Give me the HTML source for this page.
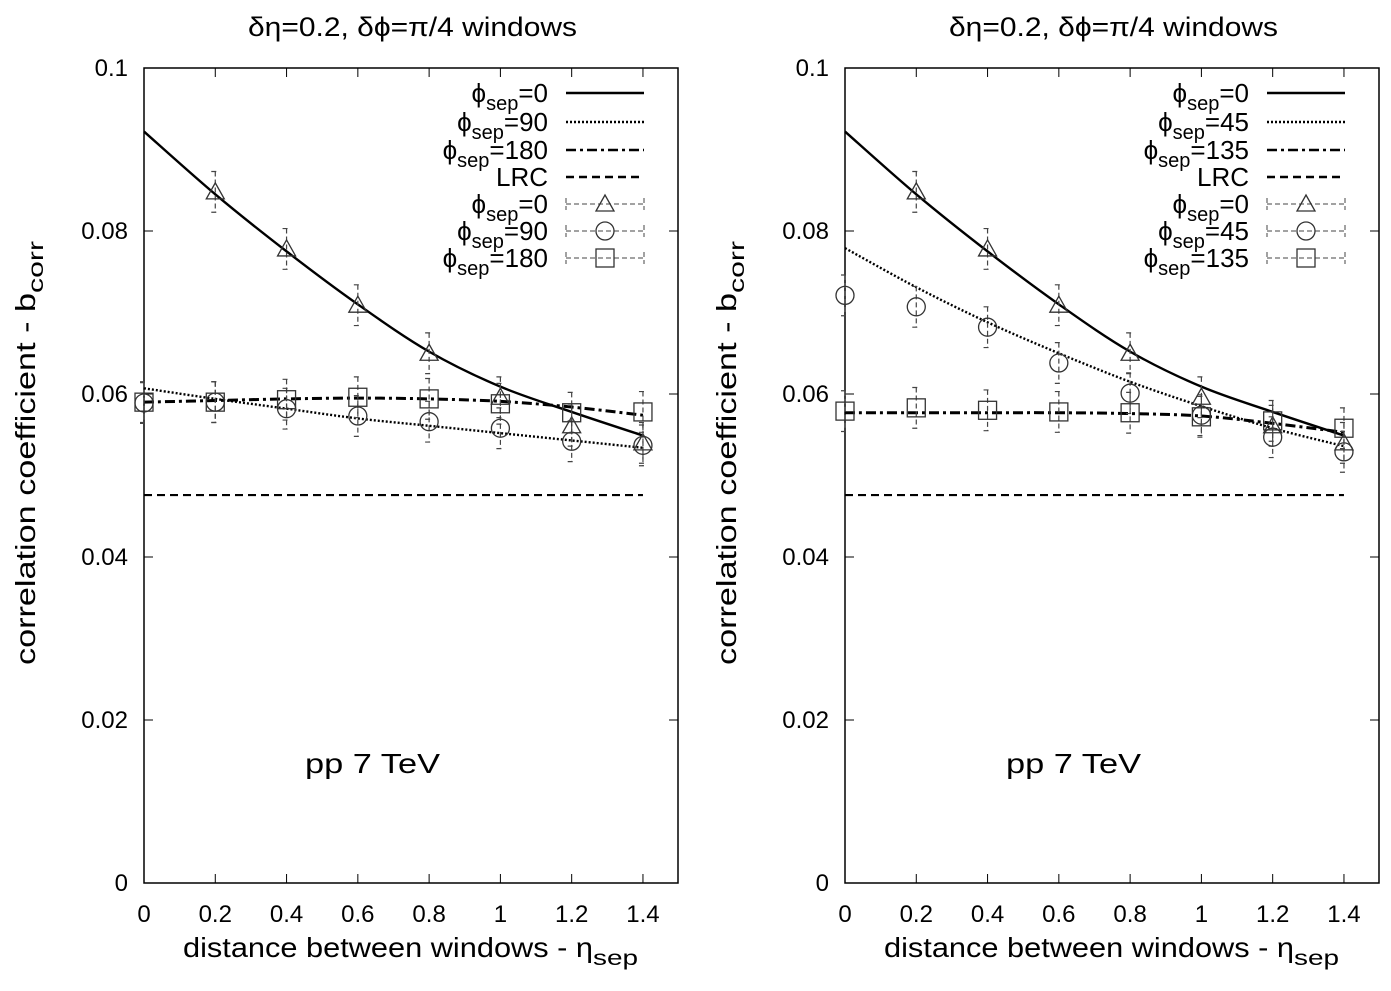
<!DOCTYPE html>
<html><head><meta charset="utf-8"><style>
body{margin:0;background:#fff}
svg text{font-family:"Liberation Sans",sans-serif;fill:#000}
</style></head><body>
<svg id="chart" width="1391" height="986" xmlns="http://www.w3.org/2000/svg"></svg>
<script>
const xs=[0,0.2,0.4,0.6,0.8,1.0,1.2,1.4];
const xTicks=[0,0.2,0.4,0.6,0.8,1,1.2,1.4];
const yTicks=[0,0.02,0.04,0.06,0.08,0.1];
const lrc=0.0476;
// left panel
const L_tri=[null,0.0848,0.0778,0.0709,0.0650,0.0596,0.0561,0.0540];
const L_circ=[0.0589,0.0590,0.0582,0.0573,0.0566,0.0558,0.0542,0.0537];
const L_sq=[0.0590,0.0590,0.0593,0.0596,0.0594,0.0588,0.0577,0.0578];
const L_solid=[0.0922,0.0845,0.0775,0.0710,0.0652,0.0609,0.0578,0.0549];
const L_dot=[0.0607,0.0594,0.0582,0.0570,0.0561,0.0552,0.0543,0.0534];
const L_dd=[0.0590,0.0592,0.0594,0.0595,0.0594,0.0591,0.0584,0.0574];
// right panel
const R_tri=[null,0.0848,0.0778,0.0709,0.0650,0.0596,0.0561,0.0540];
const R_circ=[0.0721,0.0707,0.0682,0.0638,0.0601,0.0574,0.0547,0.0529];
const R_sq=[0.0579,0.0583,0.0580,0.0578,0.0577,0.0572,0.0567,0.0558];
const R_solid=[0.0922,0.0845,0.0775,0.0710,0.0652,0.0609,0.0578,0.0549];
const R_dot=[0.0779,0.0731,0.0688,0.0650,0.0615,0.0585,0.0558,0.0536];
const R_dd=[0.0577,0.0577,0.0577,0.0577,0.0576,0.0573,0.0564,0.0553];
const errs=0.0025;

const NS="http://www.w3.org/2000/svg";
const svg=document.getElementById('chart');
function el(t,a,p){const e=document.createElementNS(NS,t);for(const k in a)e.setAttribute(k,a[k]);(p||svg).appendChild(e);return e;}

function panel(x0,labels,tri,circ,sq,solid,dot,dd,name){
  const g=el('g',{});
  
  
  const top=68,bot=883,right=x0+534;
  const X=v=>x0+v*356.4, Y=v=>bot-v*8150;
  const frame=el('rect',{x:x0,y:top,width:right-x0,height:bot-top,fill:'none',stroke:'#000','stroke-width':1.5},g);
  
  
  xTicks.forEach(v=>{
    el('line',{x1:X(v),x2:X(v),y1:bot,y2:bot-9,stroke:'#000'},g);
    el('line',{x1:X(v),x2:X(v),y1:top,y2:top+9,stroke:'#000'},g);
    const t=el('text',{x:X(v),y:922,'font-size':24,'text-anchor':'middle'},g);t.textContent=String(v);
    
    
  });
  yTicks.forEach(v=>{
    el('line',{x1:x0,x2:x0+9,y1:Y(v),y2:Y(v),stroke:'#000'},g);
    el('line',{x1:right,x2:right-9,y1:Y(v),y2:Y(v),stroke:'#000'},g);
    const t=el('text',{x:x0-16,y:Y(v)+8,'font-size':24,'text-anchor':'end'},g);t.textContent=String(v);
    
    
  });
  const ti=el('text',{x:x0+104,y:36,'font-size':27,textLength:329,lengthAdjust:'spacingAndGlyphs'},g);
  ti.textContent='δη=0.2, δϕ=π/4 windows';
  
  
  const xl=el('text',{x:x0+39,y:957,'font-size':28},g);
  xl.innerHTML='<tspan textLength="410" lengthAdjust="spacingAndGlyphs">distance between windows - η</tspan><tspan font-size="21" dy="8" textLength="45" lengthAdjust="spacingAndGlyphs">sep</tspan>';
  
  
  const yl=el('text',{transform:`translate(${x0-109},665) rotate(-90)`,'font-size':28},g);
  yl.innerHTML='<tspan textLength="372" lengthAdjust="spacingAndGlyphs">correlation coefficient - b</tspan><tspan font-size="21" dy="8" textLength="52" lengthAdjust="spacingAndGlyphs">corr</tspan>';
  
  
  const pp=el('text',{x:x0+161,y:773,'font-size':28,textLength:135,lengthAdjust:'spacingAndGlyphs'},g);
  pp.textContent='pp  7 TeV';
  
  
  function curve(vals,dash,w,nm){
    const p=vals.map((v,i)=>[X(xs[i]),Y(v)]);
    let d=`M${p[0][0]},${p[0][1]}`;
    for(let i=0;i<p.length-1;i++){
      const p0=p[Math.max(i-1,0)],p1=p[i],p2=p[i+1],p3=p[Math.min(i+2,p.length-1)];
      d+=` C${p1[0]+(p2[0]-p0[0])/6},${p1[1]+(p2[1]-p0[1])/6} ${p2[0]-(p3[0]-p1[0])/6},${p2[1]-(p3[1]-p1[1])/6} ${p2[0]},${p2[1]}`;
    }
    const c=el('path',{d,fill:'none',stroke:'#000','stroke-width':w,'stroke-dasharray':dash},g);
    
    
  }
  const lr=el('line',{x1:X(0),x2:X(1.4),y1:Y(lrc),y2:Y(lrc),stroke:'#000','stroke-width':2.2,'stroke-dasharray':'8,5'},g);
  
  
  curve(solid,'none',2.4,'curve-phi0');
  curve(dot,'2,2',2.4,'curve-phi-mid');
  curve(dd,'10,4,3,4',3,'curve-phi-back');
  function marker(type,cx,cy){
    if(type==='tri')return el('path',{d:`M${cx},${cy-9} L${cx+9},${cy+7} L${cx-9},${cy+7} Z`,fill:'none',stroke:'#333','stroke-width':1.3},g);
    if(type==='circ')return el('circle',{cx,cy,r:9,fill:'none',stroke:'#333','stroke-width':1.3},g);
    return el('rect',{x:cx-9,y:cy-9,width:18,height:18,fill:'none',stroke:'#333','stroke-width':1.3},g);
  }
  function pts(vals,type,nm){
    vals.forEach((v,i)=>{
      if(v===null)return;
      const cx=X(xs[i]),cy=Y(v);
      const e=el('path',{d:`M${cx},${Y(v+errs)} V${Y(v-errs)} M${cx-4},${Y(v+errs)} H${cx+4} M${cx-4},${Y(v-errs)} H${cx+4}`,stroke:'#444','stroke-width':1.2,'stroke-dasharray':'5,3',fill:'none'},g);
      
      
      const m=marker(type,cx,cy);
      
      
    });
  }
  pts(tri,'tri','point-phi0');pts(circ,'circ','point-phi-mid');pts(sq,'sq','point-phi-back');
  // legend
  const rowsY=[93,122,150,177,204,231,258];
  const styles=[['none',2.4],['2,2',2.4],['10,4,3,4',2.4],['8,5',2.6]];
  rowsY.forEach((ry,i)=>{
    const t=el('text',{x:x0+404,y:ry+9,'font-size':26,'text-anchor':'end'},g);
    t.innerHTML=labels[i];
    
    
    const lx1=x0+422,lx2=x0+500;
    if(i<4){
      const l=el('line',{x1:lx1,x2:lx2,y1:ry,y2:ry,stroke:'#000','stroke-width':styles[i][1],'stroke-dasharray':styles[i][0]},g);
      
      
    } else {
      const l=el('path',{d:`M${lx1},${ry} H${lx2} M${lx1},${ry-6} V${ry+6} M${lx2},${ry-6} V${ry+6}`,stroke:'#444','stroke-dasharray':'5,3',fill:'none'},g);
      
      
      const m=marker(['tri','circ','sq'][i-4],(lx1+lx2)/2,ry);
      
      
    }
  });
}
const sub=s=>`ϕ<tspan font-size="20" dy="8">sep</tspan><tspan dy="-8">=${s}</tspan>`;
panel(144,[sub(0),sub(90),sub(180),'LRC',sub(0),sub(90),sub(180)],L_tri,L_circ,L_sq,L_solid,L_dot,L_dd,'left-panel');
panel(845,[sub(0),sub(45),sub(135),'LRC',sub(0),sub(45),sub(135)],R_tri,R_circ,R_sq,R_solid,R_dot,R_dd,'right-panel');
</script>
</body></html>
